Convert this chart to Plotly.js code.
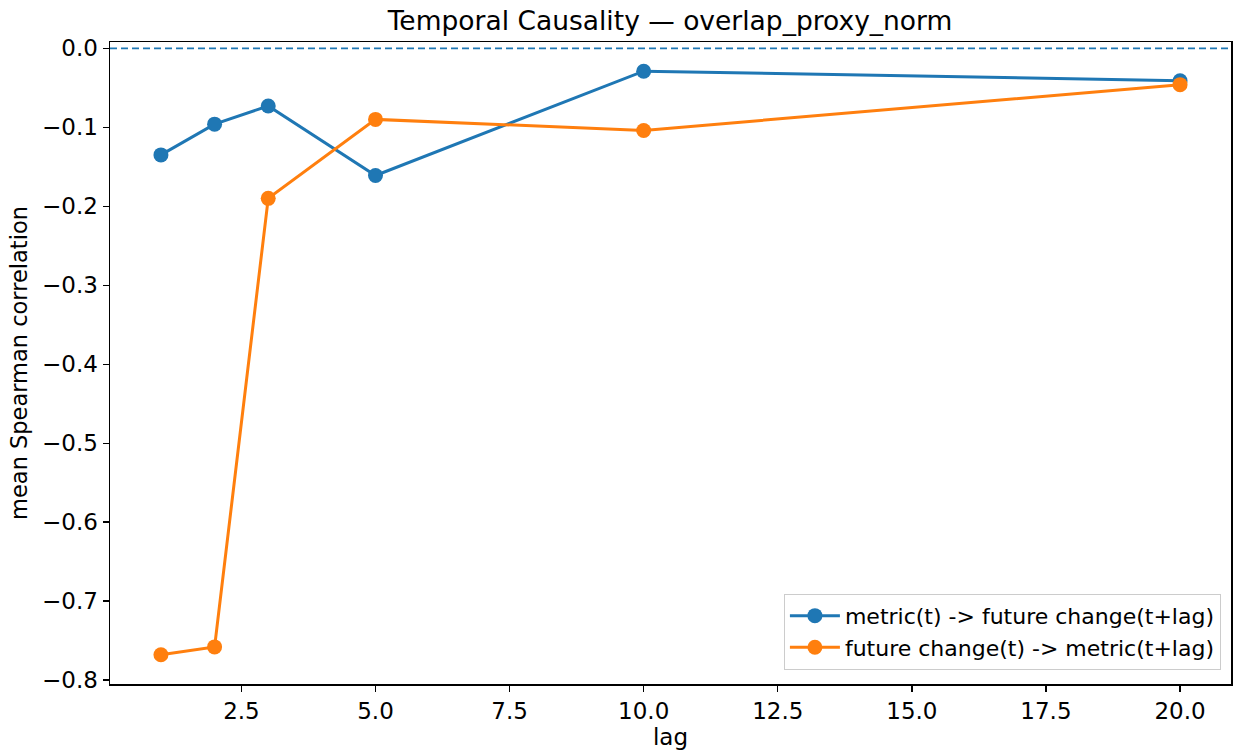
<!DOCTYPE html>
<html>
<head>
<meta charset="utf-8">
<script src="https://cdn.plot.ly/plotly-3.0.1.min.js"></script>
<style>html,body{margin:0;padding:0;background:#fff;}#chart{width:1233px;height:755px;}</style>
</head>
<body>
<div id="chart"></div>
<script>
const lags = [1, 2, 3, 5, 10, 20];
const metricToFuture = [-0.135, -0.096, -0.073, -0.161, -0.029, -0.041];
const futureToMetric = [-0.768, -0.758, -0.190, -0.090, -0.104, -0.046];
const seriesNames = ["metric(t) -> future change(t+lag)", "future change(t) -> metric(t+lag)"];
const refLevel = 0;

const FONT = "DejaVu Sans, Liberation Sans, sans-serif";
const traces = [
  {x: lags, y: metricToFuture, name: seriesNames[0], mode: "lines+markers",
   line: {color: "#1f77b4", width: 3}, marker: {color: "#1f77b4", size: 15}},
  {x: lags, y: futureToMetric, name: seriesNames[1], mode: "lines+markers",
   line: {color: "#ff7f0e", width: 3}, marker: {color: "#ff7f0e", size: 15}}
];
const layout = {
  width: 1233, height: 755,
  margin: {l: 110, r: 2, t: 42, b: 71},
  paper_bgcolor: "#fff", plot_bgcolor: "#fff",
  font: {family: FONT, size: 23, color: "#000"},
  title: {text: "Temporal Causality — overlap_proxy_norm", font: {family: FONT, size: 26.5, color: "#000"},
          x: 0.5434, xanchor: "center", y: 0.972, yanchor: "middle"},
  xaxis: {range: [0.05, 20.95], tick0: 0, dtick: 2.5, tickformat: ".1f",
          showgrid: false, zeroline: false, showline: true, linecolor: "#000", linewidth: 1.5, mirror: true,
          ticks: "outside", ticklen: 6, tickwidth: 1.3, tickcolor: "#000",
          tickfont: {family: FONT, size: 23, color: "#000"},
          title: {text: "lag", font: {family: FONT, size: 23, color: "#000"}, standoff: 4}},
  yaxis: {range: [-0.805, 0.008], tick0: 0, dtick: 0.1, tickformat: ".1f",
          showgrid: false, zeroline: false, showline: true, linecolor: "#000", linewidth: 1.5, mirror: true,
          ticks: "outside", ticklen: 6, tickwidth: 1.3, tickcolor: "#000",
          tickfont: {family: FONT, size: 23, color: "#000"},
          title: {text: "mean Spearman correlation", font: {family: FONT, size: 22.5, color: "#000"}, standoff: 8}},
  shapes: [{type: "line", xref: "paper", x0: 0, x1: 1, yref: "y", y0: refLevel, y1: refLevel,
            line: {color: "#1f77b4", width: 1.8, dash: "7px,4px"}}],
  showlegend: true,
  legend: {x: 0.991, xanchor: "right", y: 0.022, yanchor: "bottom",
           bgcolor: "rgba(255,255,255,0.8)", bordercolor: "#cccccc", borderwidth: 1,
           itemwidth: 50,
           font: {family: FONT, size: 22, color: "#000"}, tracegroupgap: 0}
};
Plotly.newPlot("chart", traces, layout, {displayModeBar: false, staticPlot: true});
</script>
</body>
</html>
